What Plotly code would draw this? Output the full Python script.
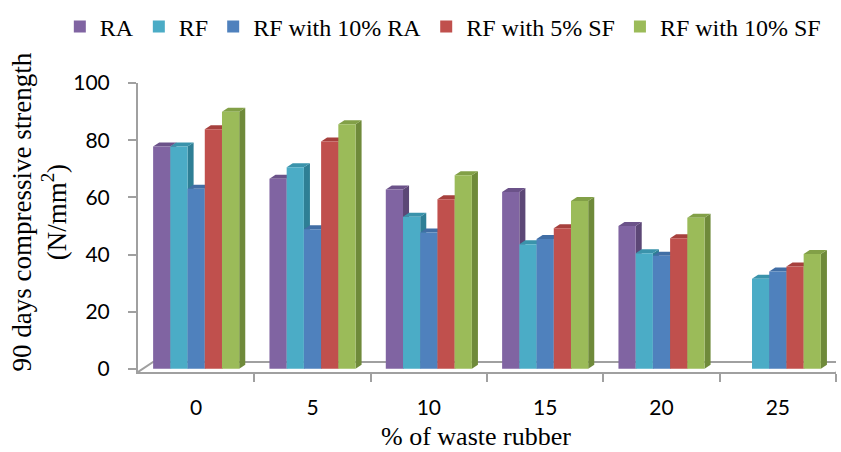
import plotly.graph_objects as go

categories = ["0", "5", "10", "15", "20", "25"]
series_names = ["RA", "RF", "RF with 10% RA", "RF with 5% SF", "RF with 10% SF"]
ra = [77.8, 66.5, 62.7, 61.9, 50.0, None]
rf = [77.8, 70.5, 53.2, 43.6, 40.4, 31.5]
rf_10ra = [63.0, 48.8, 47.7, 45.4, 39.6, 34.1]
rf_5sf = [83.8, 79.5, 59.3, 49.2, 45.7, 35.8]
rf_10sf = [89.9, 85.6, 67.7, 58.7, 52.9, 40.2]
y_ticks = [0, 20, 40, 60, 80, 100]

series = [ra, rf, rf_10ra, rf_5sf, rf_10sf]
front = ["#8064A2", "#4BACC6", "#4F81BD", "#C0504D", "#9BBB59"]
side = ["#5C4776", "#2E7F95", "#375C8C", "#8E3432", "#6F8A3A"]
top = ["#6B5289", "#3A93AB", "#416EA5", "#A6403D", "#82A047"]

W = 0.148
GROUP = W * len(series)
DX, DY = 0.052, 1.4          # bar depth offset (data units)
FDX, FDY = 0.13, 3.5         # floor depth offset
YMIN = -1.1
AX = "#A0A0A0"
xs = list(range(len(categories)))

fig = go.Figure()
shapes = []
for i, (name, vals) in enumerate(zip(series_names, series)):
    off = -GROUP / 2 + i * W
    fig.add_trace(go.Bar(
        x=xs, y=vals, name=name, width=W, offset=off,
        marker=dict(color=front[i], line=dict(width=0)),
    ))
    for j, v in zip(xs, vals):
        if v is None:
            continue
        xl = j + off
        xr = xl + W
        shapes.append(dict(
            type="path", xref="x", yref="y", layer="below",
            path=f"M{xr},0 L{xr+DX},{DY} L{xr+DX},{v+DY} L{xr},{v} Z",
            fillcolor=side[i], line=dict(width=0),
        ))
        shapes.append(dict(
            type="path", xref="x", yref="y", layer="below",
            path=f"M{xl},{v} L{xl+DX},{v+DY} L{xr+DX},{v+DY} L{xr},{v} Z",
            fillcolor=top[i], line=dict(width=0),
        ))

x0, x1 = -0.5, len(categories) - 0.5
shapes.insert(0, dict(
    type="path", xref="x", yref="y", layer="below",
    path=f"M{x0},{YMIN} L{x0+FDX},{YMIN+FDY} L{x1+FDX},{YMIN+FDY} L{x1},{YMIN}",
    line=dict(color=AX, width=2),
))

fig.update_layout(
    width=841, height=452,
    margin=dict(l=138, r=5, t=81, b=80),
    paper_bgcolor="white", plot_bgcolor="white",
    barmode="group",
    shapes=shapes,
    showlegend=True,
    legend=dict(
        orientation="h", x=-0.112, xanchor="left", y=1.272, yanchor="top",
        font=dict(family="Liberation Serif", size=24, color="black"),
        traceorder="normal", itemwidth=30,
    ),
    xaxis=dict(
        range=[x0, x1], tickmode="array", tickvals=xs, ticktext=categories,
        showline=True, linecolor=AX, linewidth=2, showgrid=False, zeroline=False,
        ticks="", ticklabelstandoff=16,
        tickfont=dict(family="Lato", size=21, color="black"),
        minor=dict(tickmode="array", tickvals=[k + 0.5 for k in xs],
                   ticks="outside", ticklen=8, tickcolor=AX, tickwidth=2),
    ),
    yaxis=dict(
        range=[YMIN, 100], tickmode="array", tickvals=y_ticks,
        showline=True, linecolor=AX, linewidth=2, showgrid=False, zeroline=False,
        ticks="outside", ticklen=8, tickcolor=AX, tickwidth=2,
        ticklabelstandoff=14,
        tickfont=dict(family="Lato", size=21, color="black"),
    ),
    annotations=[
        dict(text="90 days compressive strength<br>(N/mm<sup>2</sup>)",
             xref="paper", yref="paper", x=0, y=0.552, xshift=-99,
             xanchor="center", yanchor="middle", textangle=-90, showarrow=False,
             font=dict(family="Liberation Serif", size=27, color="black")),
        dict(text="% of waste rubber", xref="paper", yref="paper",
             x=0, y=0, xshift=338, yshift=-64, xanchor="center", yanchor="middle",
             showarrow=False,
             font=dict(family="Liberation Serif", size=26, color="black")),
    ],
)

fig.write_html("out.html")
